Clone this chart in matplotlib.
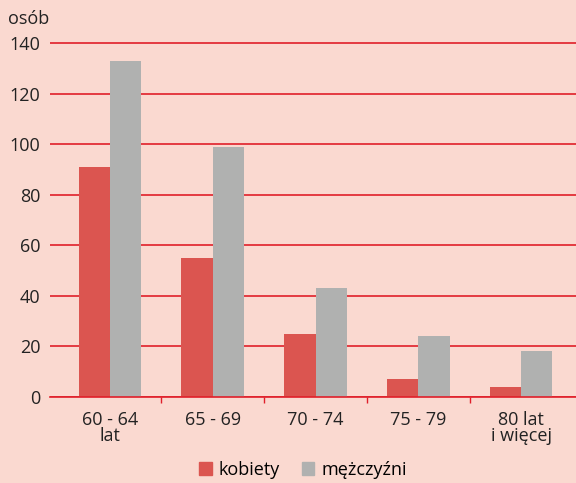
import matplotlib
matplotlib.use("Agg")
import matplotlib.pyplot as plt
import numpy as np
from matplotlib.patches import Patch

categories = ["60 - 64\nlat", "65 - 69", "70 - 74", "75 - 79", "80 lat\ni więcej"]
kobiety = [91, 55, 25, 7, 4]
mezczyzni = [133, 99, 43, 24, 18]
yticks = [0, 20, 40, 60, 80, 100, 120, 140]

bg = "#FAD9D0"
red_grid = "#E01F2A"
c_k = "#DB5550"
c_m = "#B0B1B0"

plt.rcParams['font.family'] = ['Open Sans', 'DejaVu Sans']

fig = plt.figure(figsize=(5.76, 4.83), dpi=100, facecolor=bg)
px_per_unit = (397 - 43) / 140.0
top_px = 43 - 2 * px_per_unit
ax = fig.add_axes([50/576, (483-397)/483, 1-50/576, (397-top_px)/483])
ax.set_facecolor(bg)

x = np.arange(len(categories))
w = 0.305
ax.bar(x - w/2, kobiety, w, color=c_k, zorder=3)
ax.bar(x + w/2, mezczyzni, w, color=c_m, zorder=3)

ax.set_ylim(0, 142)
ax.set_xlim(-0.584, 4.535)
ax.set_yticks(yticks)
ax.yaxis.grid(True, color=red_grid, linewidth=1.2, zorder=1)
ax.set_axisbelow(True)
for s in ["top", "right", "left"]:
    ax.spines[s].set_visible(False)
ax.spines["bottom"].set_color(red_grid)
ax.spines["bottom"].set_linewidth(1.2)
ax.spines["bottom"].set_zorder(4)

ax.set_xticks(x)
ax.set_xticklabels(categories, fontsize=13, color="#222222", linespacing=0.9)
ax.tick_params(axis="x", which="major", length=0, pad=10)
ax.set_xticks(x[:-1] + 0.5, minor=True)
ax.tick_params(axis="x", which="minor", length=4, color=red_grid, width=1)
ax.tick_params(axis="y", length=0, pad=7, labelsize=13, labelcolor="#222222")

fig.text(8/576, 1 - 19/483, "osób", fontsize=13, color="#222222", va="center", ha="left")

handles = [Patch(color=c_k, label="kobiety"), Patch(color=c_m, label="mężczyźni")]
fig.legend(handles=handles, loc="center", bbox_to_anchor=(303/576, 1 - 470/483),
           ncol=2, frameon=False, fontsize=13, handlelength=0.7, handleheight=0.7,
           handletextpad=0.4, columnspacing=1.2)

fig.savefig("out.png", dpi=100, facecolor=bg)
